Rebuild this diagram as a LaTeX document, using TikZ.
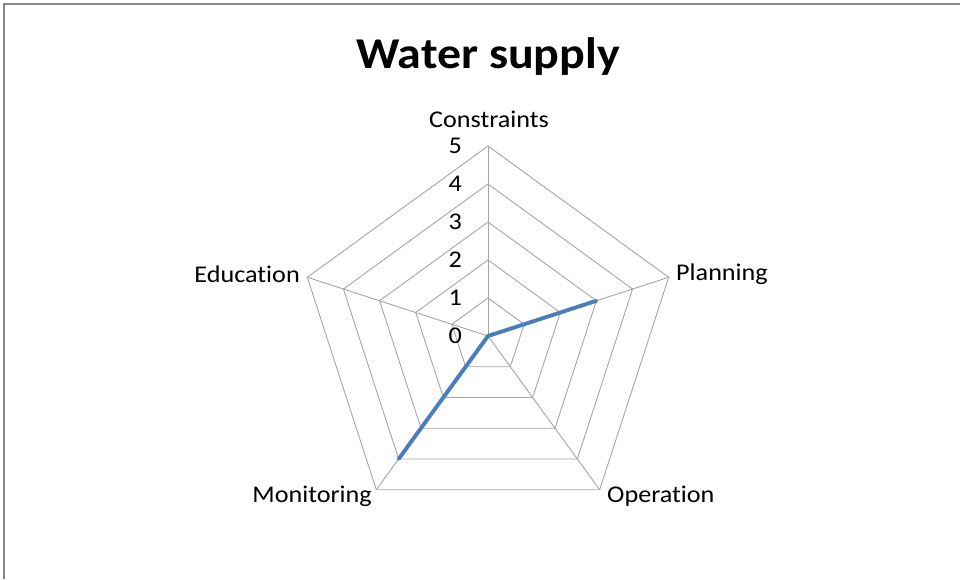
\documentclass[tikz,border=0pt]{standalone}
\usepackage{fontspec}
\setmainfont{Carlito}[FakeStretch=1.09, Ligatures=NoCommon]
\usetikzlibrary{positioning}
\definecolor{gridgray}{RGB}{165,165,165}
\definecolor{serblue}{RGB}{74,126,187}
\definecolor{framegray}{RGB}{134,134,134}
\begin{document}
\begin{tikzpicture}[x=1pt, y=1pt,
grid/.style={draw=gridgray, line width=0.9pt},
series/.style={draw=serblue, line width=3.9pt, line join=round},
lab/.style={font=\fontsize{24}{28}\selectfont, inner sep=0pt},
tick/.style={font=\fontsize{24}{28}\selectfont, inner sep=0pt, anchor=east}]
\useasboundingbox (-488,-243) rectangle (472,336);
\draw[framegray, line width=2pt] (-484,-243) -- (-484,332) -- (472,332);
\node[font=\bfseries\fontsize{44}{52}\selectfont] (title) at (0,279) {Water supply};
% rings
\draw[grid] (90:38) -- (18:38) -- (-54:38) -- (234:38) -- (162:38) -- cycle;
\draw[grid] (90:76) -- (18:76) -- (-54:76) -- (234:76) -- (162:76) -- cycle;
\draw[grid] (90:114) -- (18:114) -- (-54:114) -- (234:114) -- (162:114) -- cycle;
\draw[grid] (90:152) -- (18:152) -- (-54:152) -- (234:152) -- (162:152) -- cycle;
\draw[grid] (90:190) -- (18:190) -- (-54:190) -- (234:190) -- (162:190) -- cycle;
% spokes
\coordinate (c0) at (0,0);
\coordinate (con) at (90:190);
\coordinate (pla) at (18:190);
\coordinate (ope) at (-54:190);
\coordinate (mon) at (234:190);
\coordinate (edu) at (162:190);
\draw[grid] (c0) -- (con);
\draw[grid] (c0) -- (pla);
\draw[grid] (c0) -- (ope);
\draw[grid] (c0) -- (mon);
\draw[grid] (c0) -- (edu);
% axis labels
\node[lab] (lcon) at (1,217) {Constraints};
\node[lab, anchor=west] (lpla) at (188,62) {Planning};
\node[lab, anchor=west] (lope) at (119,-160) {Operation};
\node[lab, anchor=east] (lmon) at (-116,-160) {Monitoring};
\node[lab, anchor=east] (ledu) at (-188,62) {Education};
% scale
\node[tick] (t0) at (-26,0) {0};
\node[tick] (t1) at (-26,38) {1};
\node[tick] (t2) at (-26,76) {2};
\node[tick] (t3) at (-26,114) {3};
\node[tick] (t4) at (-26,152) {4};
\node[tick] (t5) at (-26,190) {5};
% data
\coordinate (p3) at (18:114);
\coordinate (m4) at (234:152);
\draw[series] (c0) -- (p3) -- (c0) -- (m4) -- (c0);
\end{tikzpicture}
\end{document}
